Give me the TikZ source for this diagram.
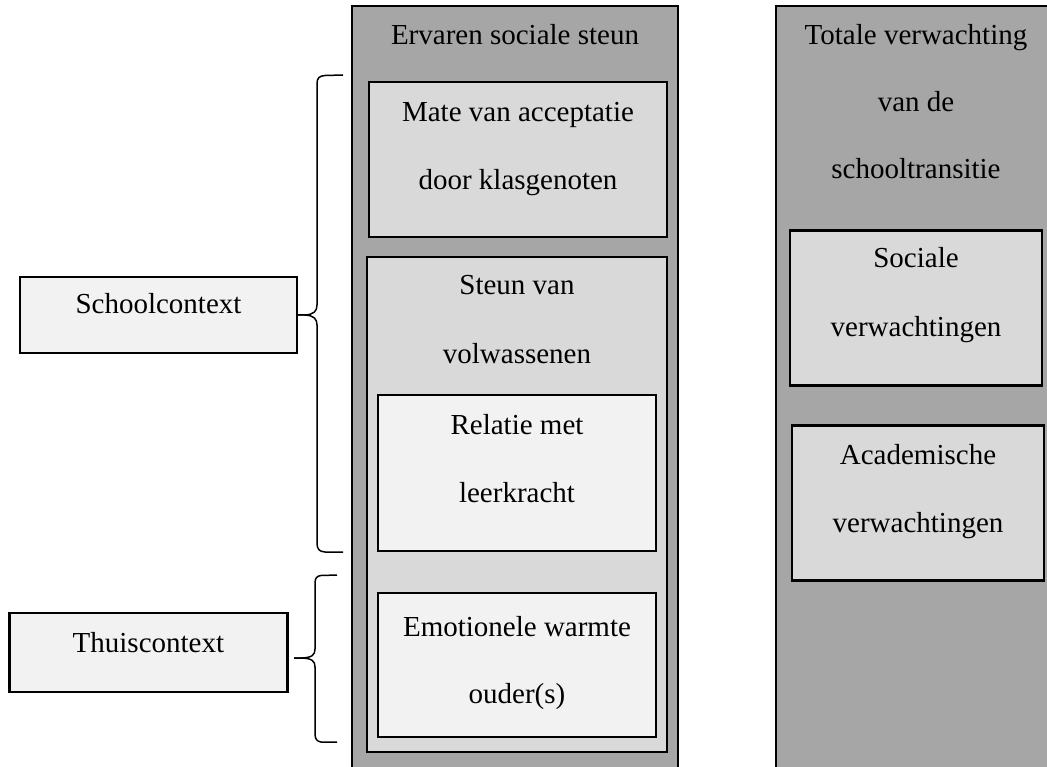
\documentclass[tikz,border=0pt]{standalone}
\usepackage{fontspec}
\setmainfont{Liberation Serif}
\definecolor{colgray}{HTML}{A6A6A6}
\definecolor{midgray}{HTML}{D9D9D9}
\definecolor{litegray}{HTML}{F2F2F2}
\begin{document}
\begin{tikzpicture}[x=1pt,y=-1pt,
  box/.style={draw=black,line width=2.2pt,inner sep=0pt,outer sep=0pt},
  colbox/.style={box,fill=colgray,line width=2pt},
  midbox/.style={box,fill=midgray},
  litebox/.style={box,fill=litegray},
  txt/.style={font=\fontsize{29}{35}\selectfont,inner sep=0pt,anchor=base},
  brace/.style={draw=black,line width=1.5pt,line join=round}]
\useasboundingbox (0,0) rectangle (1047,767);
\clip (0,0) rectangle (1047,767);
% columns
\node[colbox,minimum width=326pt,minimum height=784pt] (colL) at (515,398) {};
\node[colbox,minimum width=279pt,minimum height=784pt] (colR) at (915.5,398) {};
% left column boxes
\node[midbox,minimum width=298pt,minimum height=155pt] (mate) at (518,159.3) {};
\node[midbox,minimum width=300pt,minimum height=495pt] (steun) at (517,504.5) {};
\node[litebox,minimum width=278pt,minimum height=156pt] (relatie) at (517,473) {};
\node[litebox,minimum width=278pt,minimum height=144pt] (emo) at (517,665) {};
% right column boxes
\node[midbox,minimum width=252pt,minimum height=155pt] (sociale) at (916,308) {};
\node[midbox,minimum width=252pt,minimum height=155pt] (acad) at (918,503) {};
% context boxes
\node[litebox,minimum width=277pt,minimum height=76pt] (sc) at (158.5,314.8) {};
\node[litebox,minimum width=278pt,minimum height=79pt] (tc) at (148.4,652.5) {};
% texts
\node[txt] (t1) at (515,45) {Ervaren sociale steun};
\node[txt] (t2) at (916,45) {Totale verwachting};
\node[txt] (t3) at (916,112) {van de};
\node[txt] (t4) at (916,179) {schooltransitie};
\node[txt] (t5) at (518,122) {Mate van acceptatie};
\node[txt] (t6) at (518,190) {door klasgenoten};
\node[txt] (t7) at (517,295) {Steun van};
\node[txt] (t8) at (517,363) {volwassenen};
\node[txt] (t9) at (517,434) {Relatie met};
\node[txt] (t10) at (517,502) {leerkracht};
\node[txt] (t11) at (517,636) {Emotionele warmte};
\node[txt] (t12) at (517,703) {ouder(s)};
\node[txt] (t13) at (916,268) {Sociale};
\node[txt] (t14) at (916,337) {verwachtingen};
\node[txt] (t15) at (918,464) {Academische};
\node[txt] (t16) at (918,532) {verwachtingen};
\node[txt] (t17) at (158.5,314) {Schoolcontext};
\node[txt] (t18) at (148.4,652) {Thuiscontext};
% braces
\coordinate (ub1) at (343,75);
\coordinate (ub2) at (343,552);
\coordinate (ubtip) at (sc.east);
\draw[brace] (ub1) -- (325,75.5) .. controls (319,76) and (317,78) .. (317,84)
  -- (317,305) .. controls (317,311) and (314,314.5) .. (305,315) -- (ubtip);
\draw[brace] (ubtip) -- (305,315) .. controls (314,315.5) and (317,319) .. (317,325)
  -- (317,543) .. controls (317,549) and (319,551.5) .. (325,552) -- (ub2);
\coordinate (lb1) at (337,575);
\coordinate (lb2) at (337,742);
\coordinate (lbtip) at (294,658);
\draw[brace] (lb1) -- (321,575.5) .. controls (317,576) and (315,578) .. (315,583)
  -- (315,649) .. controls (315,655) and (312,657.5) .. (302,658) -- (lbtip);
\draw[brace] (lbtip) -- (302,658) .. controls (312,658.5) and (315,661) .. (315,667)
  -- (315,734) .. controls (315,739) and (317,741.5) .. (321,742) -- (lb2);
\end{tikzpicture}
\end{document}
